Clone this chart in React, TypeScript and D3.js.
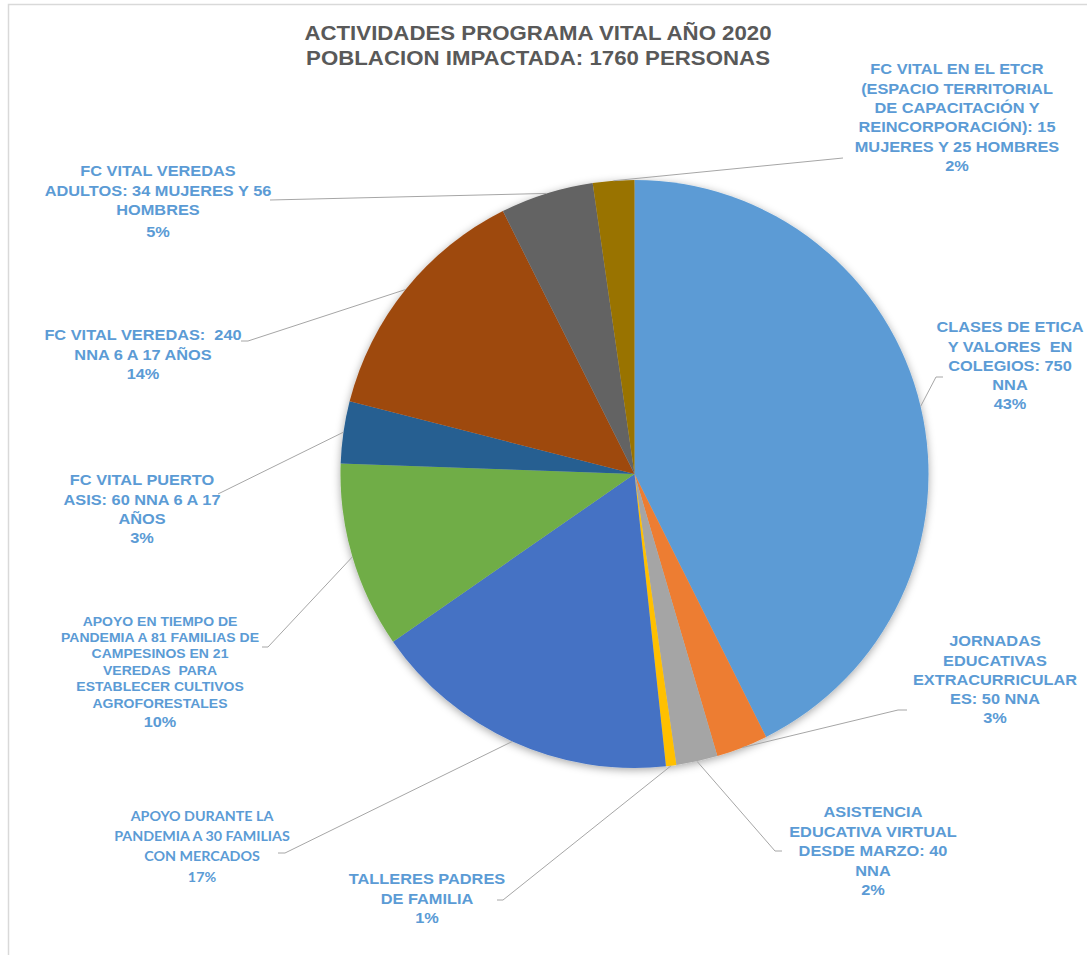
import React from 'react';
import * as d3 from 'd3';

// Chart data
const titleLines = ['ACTIVIDADES PROGRAMA VITAL AÑO 2020', 'POBLACION IMPACTADA: 1760 PERSONAS'];

const categories = [
  'CLASES DE ETICA Y VALORES EN COLEGIOS: 750 NNA',
  'JORNADAS EDUCATIVAS EXTRACURRICULARES: 50 NNA',
  'ASISTENCIA EDUCATIVA VIRTUAL DESDE MARZO: 40 NNA',
  'TALLERES PADRES DE FAMILIA',
  'APOYO DURANTE LA PANDEMIA A 30 FAMILIAS CON MERCADOS',
  'APOYO EN TIEMPO DE PANDEMIA A 81 FAMILIAS DE CAMPESINOS EN 21 VEREDAS PARA ESTABLECER CULTIVOS AGROFORESTALES',
  'FC VITAL PUERTO ASIS: 60 NNA 6 A 17 AÑOS',
  'FC VITAL VEREDAS: 240 NNA 6 A 17 AÑOS',
  'FC VITAL VEREDAS ADULTOS: 34 MUJERES Y 56 HOMBRES',
  'FC VITAL EN EL ETCR (ESPACIO TERRITORIAL DE CAPACITACIÓN Y REINCORPORACIÓN): 15 MUJERES Y 25 HOMBRES',
];

const values = [750, 50, 40, 10, 300, 180, 60, 240, 90, 40];

const labelLines = [
  ['CLASES DE ETICA', 'Y VALORES  EN', 'COLEGIOS: 750', 'NNA'],
  ['JORNADAS', 'EDUCATIVAS', 'EXTRACURRICULAR', 'ES: 50 NNA'],
  ['ASISTENCIA', 'EDUCATIVA VIRTUAL', 'DESDE MARZO: 40', 'NNA'],
  ['TALLERES PADRES', 'DE FAMILIA'],
  ['APOYO DURANTE LA', 'PANDEMIA A 30 FAMILIAS', 'CON MERCADOS'],
  ['APOYO EN TIEMPO DE', 'PANDEMIA A 81 FAMILIAS DE', 'CAMPESINOS EN 21', 'VEREDAS  PARA', 'ESTABLECER CULTIVOS', 'AGROFORESTALES'],
  ['FC VITAL PUERTO', 'ASIS: 60 NNA 6 A 17', 'AÑOS'],
  ['FC VITAL VEREDAS:  240', 'NNA 6 A 17 AÑOS'],
  ['FC VITAL VEREDAS', 'ADULTOS: 34 MUJERES Y 56', 'HOMBRES'],
  ['FC VITAL EN EL ETCR', '(ESPACIO TERRITORIAL', 'DE CAPACITACIÓN Y', 'REINCORPORACIÓN): 15', 'MUJERES Y 25 HOMBRES'],
];

const colors = ['#5B9BD5', '#ED7D31', '#A5A5A5', '#FFC000', '#4472C4', '#70AD47', '#255E91', '#9E480E', '#636363', '#997300'];

// Label placement (layout only)
const ARIAL = '"Liberation Sans", Arial, sans-serif';
const CALIBRI = 'Lato, "Open Sans", sans-serif';
type Layout = {
  cx: number; y: number; gap: number; size: number; font: string; sx: number;
  pctSize?: number; pctGap?: number; text: [number, number]; elbow: [number, number];
};
const layouts: Layout[] = [
  { cx: 1010, y: 327, gap: 19.1, size: 15, sx: 1.09, font: ARIAL, text: [943, 377], elbow: [936, 377] },
  { cx: 995, y: 641, gap: 19.2, size: 15, sx: 1.09, font: ARIAL, text: [907, 710], elbow: [898, 710] },
  { cx: 873, y: 812, gap: 19.4, size: 15, sx: 1.09, font: ARIAL, text: [782, 851], elbow: [775, 851] },
  { cx: 427, y: 879, gap: 19.5, size: 15, sx: 1.09, font: ARIAL, text: [497, 900], elbow: [503, 900] },
  { cx: 202, y: 816, gap: 20.4, size: 13, sx: 1.1, font: CALIBRI, text: [278, 853], elbow: [285, 853] },
  { cx: 160, y: 621, gap: 16.4, size: 12.5, sx: 1.12, font: ARIAL, pctSize: 14.5, pctGap: 19, text: [262, 647], elbow: [268, 647] },
  { cx: 142, y: 480, gap: 19.2, size: 15, sx: 1.09, font: ARIAL, text: [218, 494], elbow: [218, 494] },
  { cx: 143, y: 335, gap: 19.2, size: 15, sx: 1.09, font: ARIAL, text: [241, 341], elbow: [248, 341] },
  { cx: 158, y: 171, gap: 19.5, size: 15, sx: 1.09, font: ARIAL, pctGap: 21.5, text: [270, 200], elbow: [270, 200] },
  { cx: 957, y: 69, gap: 19.3, size: 15, sx: 1.09, font: ARIAL, text: [843, 158], elbow: [843, 158] },
];

const W = 1087;
const H = 955;
const CX = 634.5;
const CY = 474;
const R = 294;

export default function App() {
  const total = d3.sum(values);
  const pie = d3.pie<number>().sort(null).value(d => d);
  const arcs = pie(values);
  const arc = d3.arc<d3.PieArcDatum<number>>().innerRadius(0).outerRadius(R);
  const edge = d3.arc<d3.PieArcDatum<number>>().innerRadius(R).outerRadius(R);

  return (
    <div style={{ position: 'absolute', left: 0, top: 0, background: '#fff' }}>
      <svg width={W} height={H} style={{ display: 'block' }}>
        <defs>
          <filter id="shadow" x="-20%" y="-20%" width="140%" height="140%">
            <feDropShadow dx="0" dy="2" stdDeviation="4" floodColor="#000" floodOpacity="0.35" />
          </filter>
        </defs>
        <rect x={0} y={0} width={W} height={H} fill="#fff" />
        <rect x={8.5} y={4.5} width={W + 10} height={H + 10} fill="none" stroke="#d9d9d9" strokeWidth={1.5} />

        {titleLines.map((t, i) => (
          <text key={t} transform={`translate(538,${40 + i * 24.5}) scale(1.06,1)`} textAnchor="middle"
            fontFamily={ARIAL} fontWeight="bold" fontSize={21} fill="#595959">{t}</text>
        ))}

        <g transform={`translate(${CX},${CY})`} filter="url(#shadow)">
          {arcs.map((a, i) => (
            <path key={categories[i]} d={arc(a) || ''} fill={colors[i]} />
          ))}
        </g>

        {arcs.map((a, i) => {
          const [ex, ey] = edge.centroid(a);
          const L = layouts[i];
          const pts: [number, number][] = [L.text, L.elbow, [CX + ex, CY + ey]];
          return (
            <path key={'l' + i} d={d3.line()(pts) || ''} fill="none" stroke="#a6a6a6" strokeWidth={1} />
          );
        })}

        {arcs.map((a, i) => {
          const L = layouts[i];
          const lines = labelLines[i];
          const pct = Math.round((a.value / total) * 100) + '%';
          const lastY = L.y + (lines.length - 1) * L.gap;
          const pctY = lastY + (L.pctGap ?? L.gap);
          const ps = L.pctSize ?? L.size;
          return (
            <g key={'t' + i} fill="#5B9BD5" fontWeight="bold" textAnchor="middle">
              {lines.map((ln, j) => (
                <text key={j} transform={`translate(${L.cx},${L.y + j * L.gap + L.size * 0.36}) scale(${L.sx},1)`}
                  fontFamily={L.font} fontSize={L.size} style={{ whiteSpace: 'pre' }}>{ln}</text>
              ))}
              <text transform={`translate(${L.cx},${pctY + ps * 0.36}) scale(${L.sx},1)`}
                fontFamily={L.font} fontSize={ps}>{pct}</text>
            </g>
          );
        })}
      </svg>
    </div>
  );
}
